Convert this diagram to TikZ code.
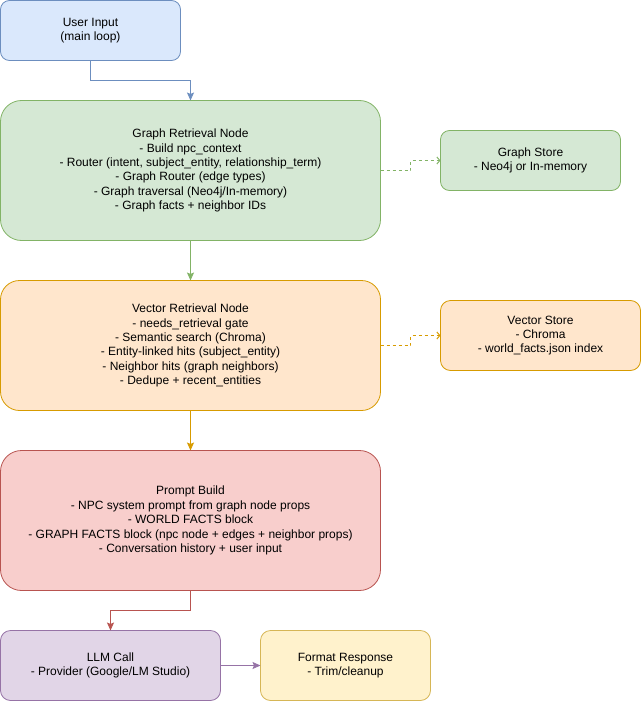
\documentclass[tikz,border=0pt]{standalone}
\usepackage{fontspec}
\setmainfont{Liberation Sans}
\usetikzlibrary{arrows.meta, positioning}
\definecolor{bluefill}{HTML}{DAE8FC}\definecolor{bluedraw}{HTML}{6C8EBF}
\definecolor{greenfill}{HTML}{D5E8D4}\definecolor{greendraw}{HTML}{82B366}
\definecolor{orangefill}{HTML}{FFE6CC}\definecolor{orangedraw}{HTML}{D79B00}
\definecolor{redfill}{HTML}{F8CECC}\definecolor{reddraw}{HTML}{B85450}
\definecolor{purplefill}{HTML}{E1D5E7}\definecolor{purpledraw}{HTML}{9673A6}
\definecolor{yellowfill}{HTML}{FFF2CC}\definecolor{yellowdraw}{HTML}{D6B656}
\tikzset{box/.style={rectangle,draw,align=center,inner sep=2pt,outer sep=0pt,line width=0.8pt,font=\fontsize{12pt}{14.4pt}\selectfont},
  line/.style={-{Stealth[length=8pt,width=7pt,inset=1.5pt]},line width=0.8pt},
  dashline/.style={-{Straight Barb[length=3pt,width=7pt]},line width=1pt,dash pattern=on 3pt off 3pt}}
\begin{document}
\begin{tikzpicture}[x=1pt,y=1pt,node distance=40pt]
\useasboundingbox (0,0) rectangle (641,-701);
\node[box, fill=bluefill, draw=bluedraw, rounded corners=9pt, minimum width=180pt, minimum height=60pt, anchor=north west] (user) at (0.5,-0.5) {User Input\\(main loop)};
\node[box, fill=greenfill, draw=greendraw, rounded corners=21pt, minimum width=380pt, minimum height=140pt, below=of user.south west, anchor=north west] (graph) {Graph Retrieval Node\\- Build npc\_context\\- Router (intent, subject\_entity, relationship\_term)\\- Graph Router (edge types)\\- Graph traversal (Neo4j/In-memory)\\- Graph facts + neighbor IDs};
\node[box, fill=greenfill, draw=greendraw, rounded corners=9pt, minimum width=180pt, minimum height=60pt, right=60pt of graph, yshift=10pt] (gstore) {Graph Store\\- Neo4j or In-memory};
\node[box, fill=orangefill, draw=orangedraw, rounded corners=19pt, minimum width=380pt, minimum height=130pt, below=of graph] (vector) {Vector Retrieval Node\\- needs\_retrieval gate\\- Semantic search (Chroma)\\- Entity-linked hits (subject\_entity)\\- Neighbor hits (graph neighbors)\\- Dedupe + recent\_entities};
\node[box, fill=orangefill, draw=orangedraw, rounded corners=10pt, minimum width=200pt, minimum height=70pt, right=60pt of vector, yshift=10pt] (vstore) {Vector Store\\- Chroma\\- world\_facts.json index};
\node[box, fill=redfill, draw=reddraw, rounded corners=21pt, minimum width=380pt, minimum height=140pt, below=of vector] (prompt) {Prompt Build\\- NPC system prompt from graph node props\\- WORLD FACTS block\\- GRAPH FACTS block (npc node + edges + neighbor props)\\- Conversation history + user input};
\node[box, fill=purplefill, draw=purpledraw, rounded corners=10pt, minimum width=220pt, minimum height=70pt, below=of prompt.south west, anchor=north west] (llm) {LLM Call\\- Provider (Google/LM Studio)};
\node[box, fill=yellowfill, draw=yellowdraw, rounded corners=10pt, minimum width=170pt, minimum height=70pt, right=of llm] (format) {Format Response\\- Trim/cleanup};
\draw[line, bluedraw] (user.south) -- ++(0,-20) -| (graph.north);
\draw[line, greendraw] (graph) -- (vector);
\draw[line, orangedraw] (vector) -- (prompt);
\draw[line, reddraw] (prompt.south) -- ++(0,-20) -| (llm.north);
\draw[line, purpledraw] (llm) -- (format);
\draw[dashline, greendraw] (graph.east) -- ++(30,0) |- (gstore.west);
\draw[dashline, orangedraw] (vector.east) -- ++(30,0) |- (vstore.west);
\end{tikzpicture}
\end{document}
